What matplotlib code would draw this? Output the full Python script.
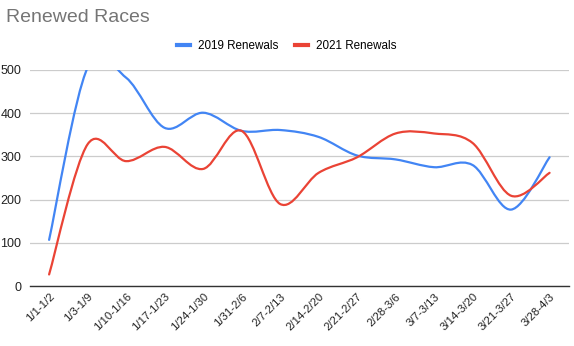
import numpy as np
import matplotlib as mpl
import matplotlib.pyplot as plt
from matplotlib.path import Path
from matplotlib.patches import PathPatch
from matplotlib.lines import Line2D

mpl.rcParams['font.family'] = ['Liberation Sans', 'DejaVu Sans']

weeks = ["1/1-1/2", "1/3-1/9", "1/10-1/16", "1/17-1/23", "1/24-1/30", "1/31-2/6",
         "2/7-2/13", "2/14-2/20", "2/21-2/27", "2/28-3/6", "3/7-3/13", "3/14-3/20",
         "3/21-3/27", "3/28-4/3"]
renew_2019 = [107, 505, 482, 366, 401, 359, 361, 345, 302, 293, 275, 280, 177, 298]
renew_2021 = [27, 328, 289, 322, 271, 359, 190, 262, 298, 353, 353, 331, 209, 262]

BLUE = "#4285F4"
RED = "#EA4335"


def smooth_path(xs, ys, k=1 / 6):
    # cubic bezier segments through every point (catmull-rom style control points)
    xs = np.asarray(xs, float)
    ys = np.asarray(ys, float)
    n = len(xs)
    verts = [(xs[0], ys[0])]
    codes = [Path.MOVETO]
    for i in range(n - 1):
        p0 = i - 1 if i > 0 else i
        p3 = i + 2 if i + 2 < n else i + 1
        c1 = (xs[i] + (xs[i + 1] - xs[p0]) * k, ys[i] + (ys[i + 1] - ys[p0]) * k)
        c2 = (xs[i + 1] - (xs[p3] - xs[i]) * k, ys[i + 1] - (ys[p3] - ys[i]) * k)
        verts += [c1, c2, (xs[i + 1], ys[i + 1])]
        codes += [Path.CURVE4] * 3
    return Path(verts, codes)


fig = plt.figure(figsize=(5.74, 3.46), dpi=100)
ax = fig.add_axes([0.052, 0.173, 0.939, 0.625])

x = np.arange(len(weeks))
for vals, color in [(renew_2019, BLUE), (renew_2021, RED)]:
    patch = PathPatch(smooth_path(x, vals), facecolor="none", edgecolor=color,
                      linewidth=1.6, capstyle="round", zorder=3)
    ax.add_patch(patch)

ax.set_xlim(-0.5, len(weeks) - 0.5)
ax.set_ylim(0, 500)
ax.set_yticks([0, 100, 200, 300, 400, 500])
ax.set_xticks(x)
ax.set_xticklabels(weeks, rotation=45, ha="right", va="top",
                   rotation_mode="anchor", fontsize=8.2, color="#222222")
ax.tick_params(axis="y", labelsize=9, colors="#222222", length=0, pad=6)
ax.tick_params(axis="x", length=0, pad=4)
ax.grid(axis="y", color="#cccccc", linewidth=0.9)
ax.set_axisbelow(True)
for s in ["top", "right", "left"]:
    ax.spines[s].set_visible(False)
ax.spines["bottom"].set_color("#333333")
ax.spines["bottom"].set_linewidth(1.0)
ax.spines["bottom"].set_zorder(4)

fig.text(0.01, 0.948, "Renewed Races", fontsize=14, color="#757575",
         ha="left", va="center")

handles = [Line2D([0], [0], color=BLUE, linewidth=3),
           Line2D([0], [0], color=RED, linewidth=3)]
fig.legend(handles, ["2019 Renewals", "2021 Renewals"], loc="center",
           bbox_to_anchor=(0.5, 0.868), ncol=2, frameon=False, fontsize=8.4,
           handlelength=1.07, handletextpad=0.71, columnspacing=1.43)

fig.savefig("out.png", dpi=100)
